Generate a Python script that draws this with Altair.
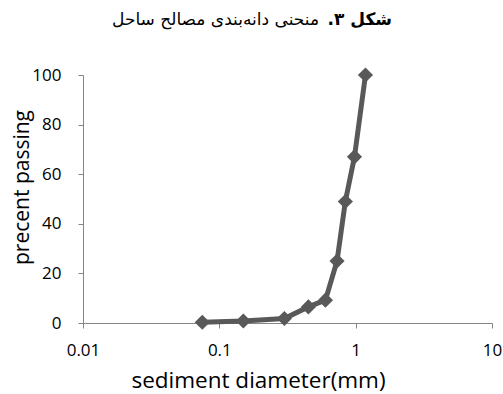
import altair as alt
import pandas as pd

# Grain size distribution of the beach sediment
diameter_mm = [0.075, 0.15, 0.3, 0.45, 0.6, 0.73, 0.84, 0.98, 1.18]
percent_passing = [0.3, 0.8, 1.8, 6.5, 9.2, 25, 49, 67, 100]

x_ticks = [0.01, 0.1, 1, 10]
y_ticks = [0, 20, 40, 60, 80, 100]

title_bold = ".شکل ۳"
title_rest = "منحنی دانه‌بندی مصالح ساحل"

df = pd.DataFrame({"d": diameter_mm, "p": percent_passing})

W, H = 409, 248
LINE = "#595959"
AXIS = "#868686"
FONT = "Open Sans"

x_enc = alt.X(
    "d:Q",
    scale=alt.Scale(type="log", domain=[0.01, 10]),
    axis=alt.Axis(
        values=x_ticks, format="~g", title="sediment diameter(mm)",
        grid=False, domainColor=AXIS, tickColor=AXIS, tickSize=5,
        labelFont=FONT, labelFontSize=17, labelColor="#000000", labelPadding=14,
        labelFlush=False,
        titleFont=FONT, titleFontSize=22.5, titleFontWeight="normal",
        titleColor="#000000", titleX=175, titleY=64,
        titleAlign="center", titleBaseline="alphabetic",
    ),
)
y_enc = alt.Y(
    "p:Q",
    scale=alt.Scale(domain=[0, 100]),
    axis=alt.Axis(
        values=y_ticks, title="precent passing",
        grid=False, domainColor=AXIS, tickColor=AXIS, tickSize=5,
        labelFont=FONT, labelFontSize=17, labelColor="#000000", labelPadding=17,
        labelFlush=False,
        titleFont=FONT, titleFontSize=21, titleFontWeight="normal",
        titleColor="#000000", titleX=-61, titleY=112, titleAngle=-90,
        titleAlign="center", titleBaseline="middle",
    ),
)

curve = alt.Chart(df).mark_line(color=LINE, strokeWidth=5).encode(x=x_enc, y=y_enc)
pts = alt.Chart(df).mark_point(
    shape="diamond", filled=True, color=LINE, size=230, opacity=1
).encode(x="d:Q", y="p:Q")

head_bold = alt.Chart(pd.DataFrame({"t": [title_bold]})).mark_text(
    font="DejaVu Sans", fontSize=17, fontWeight="bold", align="right",
    baseline="middle", color="#000000",
).encode(x=alt.value(309), y=alt.value(-55), text="t:N")
head_rest = alt.Chart(pd.DataFrame({"t": [title_rest]})).mark_text(
    font="DejaVu Sans", fontSize=17, align="right",
    baseline="middle", color="#000000",
).encode(x=alt.value(236), y=alt.value(-55), text="t:N")

chart = (
    alt.layer(curve, pts, head_bold, head_rest)
    .properties(
        width=W, height=H,
        autosize=alt.AutoSizeParams(type="none"),
        padding={"left": 83, "top": 75, "right": 11, "bottom": 71},
        background="#ffffff",
    )
    .configure_view(stroke=None)
)

chart.save("out.html", embed_options={"renderer": "svg", "actions": False})
